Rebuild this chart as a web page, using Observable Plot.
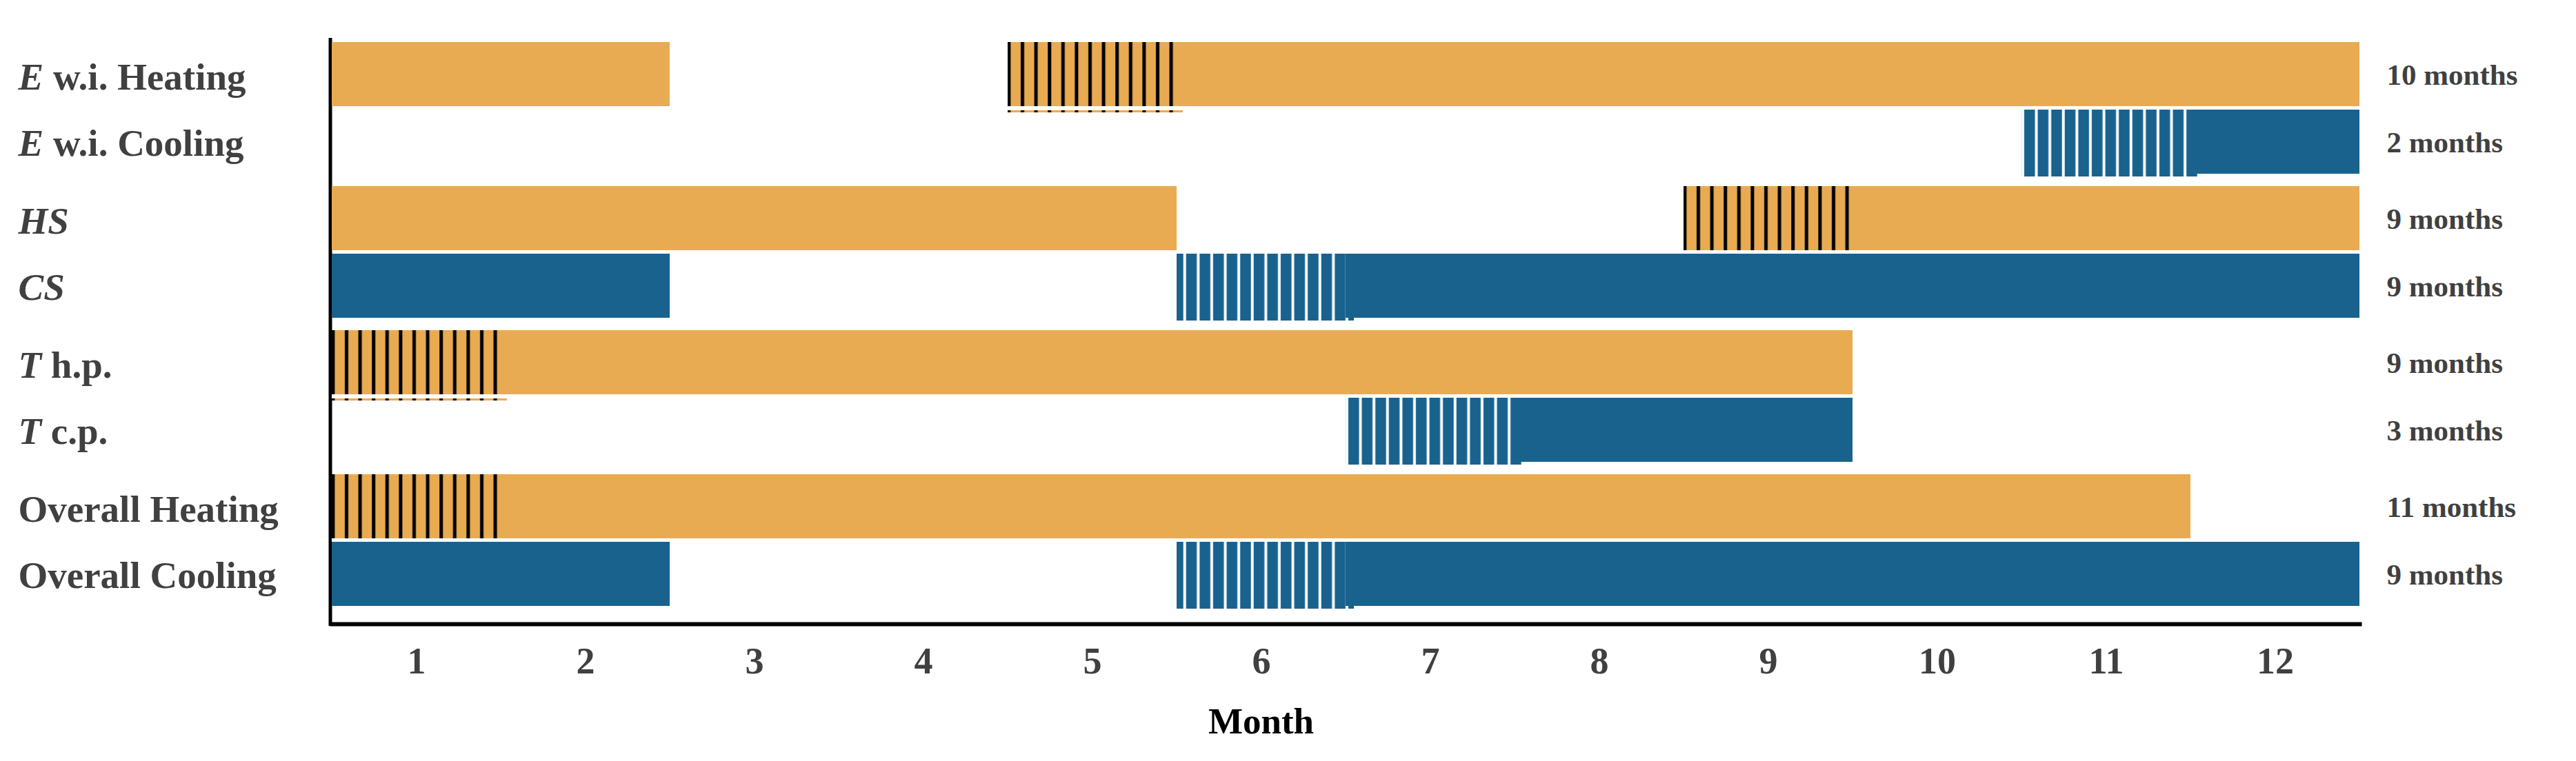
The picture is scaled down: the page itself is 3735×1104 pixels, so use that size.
<!DOCTYPE html>
<html>
<head>
<meta charset="utf-8">
<script src="https://cdn.jsdelivr.net/npm/d3@7"></script>
<script src="https://cdn.jsdelivr.net/npm/@observablehq/plot@0.6"></script>
<style>
  html, body { margin: 0; padding: 0; background: #fff; }
  #chart svg { display: block; }
</style>
</head>
<body>
<div id="chart"></div>
<script>
// ---- data ----
const groups = ["E", "S", "T", "O"];
const rowGroup = ["E", "E", "S", "S", "T", "T", "O", "O"];
const rowMode = ["heating", "cooling", "heating", "cooling", "heating", "cooling", "heating", "cooling"];
const rowSymbol = ["E", "E", "HS", "CS", "T", "T", "", ""];
const rowRest = [" w.i. Heating", " w.i. Cooling", "", "", " h.p.", " c.p.", "Overall Heating", "Overall Cooling"];
const durations = ["10 months", "2 months", "9 months", "9 months", "9 months", "3 months", "11 months", "9 months"];
const months = [1, 2, 3, 4, 5, 6, 7, 8, 9, 10, 11, 12];

// segments: row index, first month, last month, transition month (hatched)
const segRow     = [0, 0, 0,  1, 1,  2, 2, 2,  3, 3, 3,  4, 4,  5, 5,  6, 6,  7, 7, 7];
const segFirst   = [1, 5, 6,  11, 12, 1, 9, 10, 1, 6, 7,  1, 2,  7, 8,  1, 2,  1, 6, 7];
const segLast    = [2, 5, 12, 11, 12, 5, 9, 12, 2, 6, 12, 1, 9,  7, 9,  1, 11, 2, 6, 12];
const segHatched = [0, 1, 0,  1, 0,  0, 1, 0,  0, 1, 0,  1, 0,  1, 0,  1, 0,  0, 1, 0];

const heatColor = "#E8AB52";
const coolColor = "#19628E";
const textColor = "#404040";

// ---- tables ----
const rows = rowGroup.map((g, i) => ({
  group: g, mode: rowMode[i], symbol: rowSymbol[i], rest: rowRest[i],
  label: rowSymbol[i] + rowRest[i], duration: durations[i]
}));
const segs = segRow.map((r, i) => ({
  group: rowGroup[r], mode: rowMode[r],
  first: segFirst[i], last: segLast[i], hatched: segHatched[i] === 1
}));
const solidHeat = segs.filter(d => !d.hatched && d.mode === "heating");
const solidCool = segs.filter(d => !d.hatched && d.mode === "cooling");
const hatchHeat = segs.filter(d => d.hatched && d.mode === "heating");
const hatchCool = segs.filter(d => d.hatched && d.mode === "cooling");
const x1 = d => d.first - 0.5;
const x2 = d => d.last + 0.5;

const heatRows = rows.filter(d => d.mode === "heating");
const coolRows = rows.filter(d => d.mode === "cooling");

const plot = Plot.plot({
  width: 3735,
  height: 1104,
  marginLeft: 481,
  marginRight: 314,
  marginTop: 57,
  marginBottom: 199,
  style: { fontFamily: "'Liberation Serif', 'Times New Roman', serif", fontWeight: "bold", background: "#fff" },
  x: { domain: [0.5, 12.5], axis: null },
  y: { type: "band", domain: groups, paddingInner: 0.088, paddingOuter: 0.068, align: 0.14, axis: null },
  marks: [
    Plot.frame({ anchor: "bottom", stroke: "#000", strokeWidth: 6 }),
    Plot.frame({ anchor: "left", stroke: "#000", strokeWidth: 5, dx: -2.5 }),
    Plot.axisX(months, { anchor: "bottom", tickSize: 0, tickPadding: 33, fontSize: 54, fontWeight: "bold", fill: textColor, tickFormat: d => String(d), label: null }),
    // hatched transition months
    Plot.barX(hatchHeat, { x1, x2, y: "group", fill: "url(#hatch-heat)", insetBottom: 89, insetRight: -9 }),
    Plot.barX(hatchHeat, { x1, x2, y: "group", fill: "#fff", insetTop: 93, insetBottom: 92, insetRight: -9 }),
    Plot.barX(hatchCool, { x1, x2, y: "group", fill: "url(#hatch-cool)", insetTop: 98, insetBottom: -4, insetRight: -12 }),
    // solid months
    Plot.barX(solidHeat, { x1, x2, y: "group", fill: heatColor, insetBottom: 98 }),
    Plot.barX(solidCool, { x1, x2, y: "group", fill: coolColor, insetTop: 98 }),
    // row labels (left)
    Plot.text(heatRows, { y: "group", text: "label", frameAnchor: "left", textAnchor: "start", dx: -455, dy: -45, fontSize: 55, fill: textColor }),
    Plot.text(coolRows, { y: "group", text: "label", frameAnchor: "left", textAnchor: "start", dx: -455, dy: 51, fontSize: 55, fill: textColor }),
    // durations (right)
    Plot.text(heatRows, { y: "group", text: "duration", frameAnchor: "right", textAnchor: "start", dx: 39, dy: -48, fontSize: 43, fill: textColor }),
    Plot.text(coolRows, { y: "group", text: "duration", frameAnchor: "right", textAnchor: "start", dx: 39, dy: 50, fontSize: 43, fill: textColor }),
    // axis title
    Plot.text(["Month"], { frameAnchor: "bottom", dx: -123, dy: 158, fontSize: 53, fill: "#000" })
  ]
});

// hatch patterns (matplotlib-like "|" hatch)
const svg = d3.select(plot);
const defs = svg.insert("defs", ":first-child");
function hatch(id, bg, line, w) {
  const p = defs.append("pattern").attr("id", id)
    .attr("patternUnits", "userSpaceOnUse").attr("width", 19.6).attr("height", 20);
  p.append("rect").attr("width", 19.6).attr("height", 20).attr("fill", bg);
  p.append("rect").attr("x", 12.5 - w / 2).attr("width", w).attr("height", 20).attr("fill", line);
}
hatch("hatch-heat", heatColor, "#000", 5);
hatch("hatch-cool", coolColor, "#fff", 4);

// italic symbols in row labels
svg.selectAll("text").each(function () {
  const row = rows.find(r => r.label === this.textContent.trim());
  if (!row) return;
  const t = d3.select(this);
  t.text(null);
  if (row.symbol) t.append("tspan").attr("font-style", "italic").text(row.symbol);
  if (row.rest) t.append("tspan").text(row.rest);
});

document.getElementById("chart").appendChild(plot);
</script>
</body>
</html>
